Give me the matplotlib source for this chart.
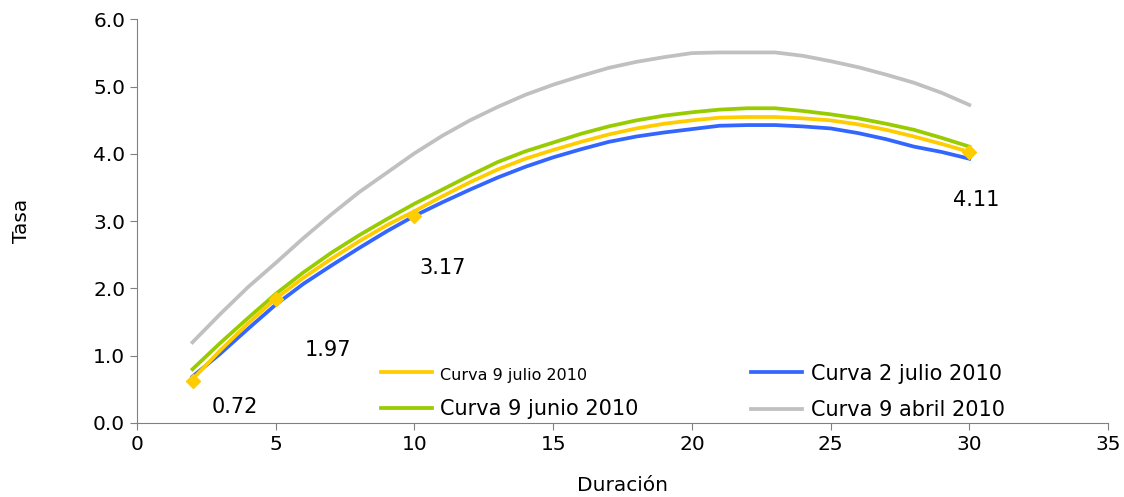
import numpy as np
import matplotlib.pyplot as plt

duracion = list(range(2, 31))

julio9 = [0.65, 1.08, 1.48, 1.85, 2.16, 2.44, 2.70, 2.94, 3.15, 3.37, 3.58, 3.77, 3.93, 4.06,
          4.18, 4.29, 4.38, 4.45, 4.50, 4.54, 4.55, 4.55, 4.53, 4.50, 4.44, 4.36, 4.26, 4.15, 4.03]
julio2 = [0.69, 1.03, 1.40, 1.76, 2.07, 2.34, 2.60, 2.85, 3.08, 3.28, 3.47, 3.65, 3.81, 3.95,
          4.07, 4.18, 4.26, 4.32, 4.37, 4.42, 4.43, 4.43, 4.41, 4.38, 4.31, 4.22, 4.11, 4.03, 3.93]
junio9 = [0.80, 1.19, 1.56, 1.92, 2.24, 2.53, 2.79, 3.03, 3.26, 3.47, 3.68, 3.88, 4.04, 4.17,
          4.30, 4.41, 4.50, 4.57, 4.62, 4.66, 4.68, 4.68, 4.64, 4.59, 4.53, 4.45, 4.36, 4.24, 4.11]
abril9 = [1.20, 1.62, 2.02, 2.38, 2.75, 3.10, 3.43, 3.72, 4.01, 4.27, 4.50, 4.70, 4.88, 5.03,
          5.16, 5.28, 5.37, 5.44, 5.50, 5.51, 5.51, 5.51, 5.46, 5.38, 5.29, 5.18, 5.06, 4.91, 4.73]

# puntos marcados de la curva 9 julio
marc_x = [2, 5, 10, 30]
marc_y = [0.63, 1.85, 3.08, 4.03]

# etiquetas de datos
etiquetas = ['0.72', '1.97', '3.17', '4.11']
etq_x = [3.53, 6.89, 11.03, 30.25]
etq_y = [0.24, 1.09, 2.30, 3.32]

fig = plt.figure(figsize=(11.24, 4.97), dpi=100)
ax = fig.add_axes([0.1219, 0.1489, 0.8639, 0.8119])

l1, = ax.plot(duracion, julio9, color='#FFCC00', lw=2.7, zorder=3)
l2, = ax.plot(duracion, julio2, color='#3366FF', lw=2.7, zorder=2)
l3, = ax.plot(duracion, junio9, color='#99CC00', lw=2.7, zorder=2)
l4, = ax.plot(duracion, abril9, color='#C0C0C0', lw=2.7, zorder=2)
ax.plot(marc_x, marc_y, ls='none', marker='D', color='#FFCC00', markersize=7, zorder=4)

for t, x, y in zip(etiquetas, etq_x, etq_y):
    ax.text(x, y, t, ha='center', va='center', fontsize=15)

leg = ax.legend([l1, l3, l2, l4],
                ['Curva 9 julio 2010', 'Curva 9 junio 2010', 'Curva 2 julio 2010', 'Curva 9 abril 2010'],
                ncol=2, frameon=False, fontsize=15, loc='lower left',
                bbox_to_anchor=(0.232, -0.04), handlelength=2.45, columnspacing=5.4,
                labelspacing=0.8, handletextpad=0.4)
leg.get_texts()[0].set_fontsize(11.5)

ax.set_xlim(0, 35)
ax.set_ylim(0, 6)
ax.set_xticks(range(0, 36, 5))
ax.set_yticks(np.arange(0, 6.1, 1))
ax.set_yticklabels([f'{v:.1f}' for v in np.arange(0, 6.1, 1)])
ax.tick_params(labelsize=14.5, color='#808080', length=5)
for s in ['top', 'right']:
    ax.spines[s].set_visible(False)
for s in ['left', 'bottom']:
    ax.spines[s].set_color('#808080')

ax.set_xlabel('Duración', fontsize=14.5, labelpad=16)
ax.set_ylabel('Tasa', fontsize=14.5, labelpad=45)

fig.savefig('out.png', dpi=100)
